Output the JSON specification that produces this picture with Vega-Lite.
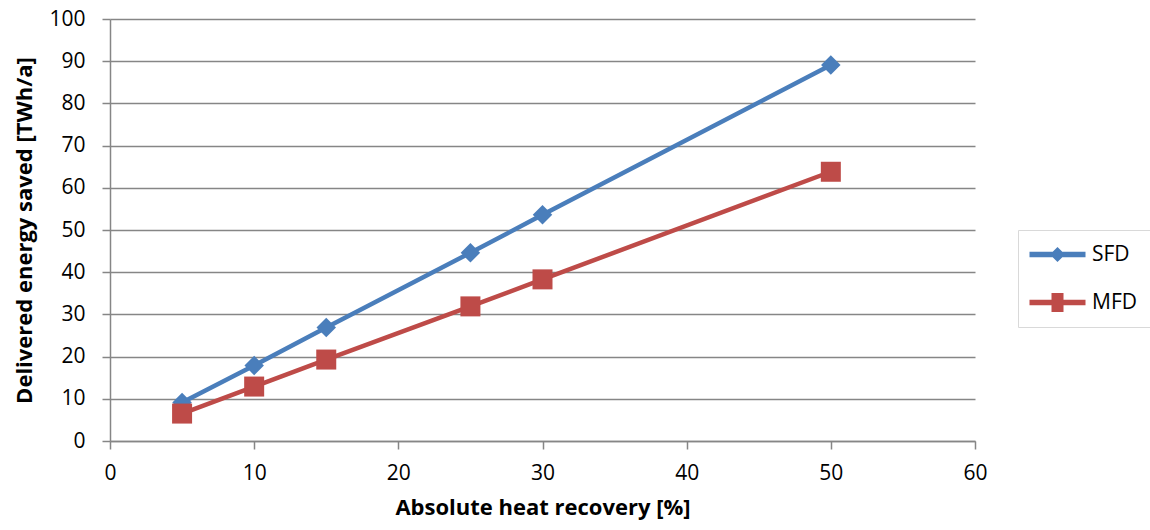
{
  "$schema": "https://vega.github.io/schema/vega-lite/v6.json",
  "width": 865,
  "height": 422,
  "autosize": "none",
  "padding": {"left": 110, "top": 19, "right": 175, "bottom": 89},
  "background": "white",
  "config": {
    "view": {"stroke": null},
    "font": "Open Sans",
    "axis": {
      "labelFont": "Open Sans",
      "titleFont": "Open Sans",
      "labelFontSize": 21,
      "titleFontSize": 22,
      "titleFontWeight": "bold",
      "labelColor": "#000000",
      "titleColor": "#000000",
      "domainColor": "#868686",
      "tickColor": "#868686",
      "gridColor": "#868686",
      "domainWidth": 1.5,
      "tickWidth": 1.5,
      "gridWidth": 1.5,
      "tickSize": 8,
      "labelFlush": false
    }
  },
  "data": {
    "values": [
      {"x": 5, "y": 9.1, "s": "SFD"},
      {"x": 10, "y": 17.9, "s": "SFD"},
      {"x": 15, "y": 26.9, "s": "SFD"},
      {"x": 25, "y": 44.6, "s": "SFD"},
      {"x": 30, "y": 53.6, "s": "SFD"},
      {"x": 50, "y": 89.1, "s": "SFD"},
      {"x": 5, "y": 6.5, "s": "MFD"},
      {"x": 10, "y": 12.9, "s": "MFD"},
      {"x": 15, "y": 19.3, "s": "MFD"},
      {"x": 25, "y": 31.9, "s": "MFD"},
      {"x": 30, "y": 38.3, "s": "MFD"},
      {"x": 50, "y": 63.8, "s": "MFD"}
    ]
  },
  "encoding": {
    "x": {
      "field": "x", "type": "quantitative",
      "scale": {"domain": [0, 60], "nice": false},
      "axis": {"values": [0, 10, 20, 30, 40, 50, 60], "grid": false, "title": "Absolute heat recovery [%]", "labelPadding": 13, "titlePadding": 14}
    },
    "y": {
      "field": "y", "type": "quantitative",
      "scale": {"domain": [0, 100], "nice": false},
      "axis": {"values": [0, 10, 20, 30, 40, 50, 60, 70, 80, 90, 100], "grid": true, "title": "Delivered energy saved [TWh/a]", "labelPadding": 17, "titlePadding": 12}
    }
  },
  "layer": [
    {
      "mark": {"type": "line", "strokeWidth": 4.5},
      "encoding": {
        "color": {
          "field": "s", "type": "nominal",
          "scale": {"domain": ["SFD", "MFD"], "range": ["#4a7ebb", "#be4b48"]},
          "legend": {
            "title": null,
            "orient": "none",
            "legendX": 908,
            "legendY": 211,
            "padding": 14,
            "rowPadding": 26,
            "labelFontSize": 21,
            "labelFont": "Open Sans",
            "labelColor": "#000000",
            "labelOffset": 39,
            "symbolSize": 256,
            "strokeColor": "#d9d9d9",
            "fillColor": "#ffffff",
            "encode": {
              "symbols": {
                "update": {
                  "shape": {"signal": "datum.value === 'SFD' ? 'M-1.625,-0.33H5.375V0.33H-1.625Z M1.875,-0.95L2.825,0L1.875,0.95L0.925,0Z' : 'M-1.625,-0.33H5.375V0.33H-1.625Z M1.125,-1.2H2.625V1.2H1.125Z'"},
                  "fill": {"signal": "datum.value === 'SFD' ? '#4a7ebb' : '#be4b48'"},
                  "stroke": {"value": "transparent"},
                  "strokeWidth": {"value": 0},
                  "size": {"value": 256},
                  "opacity": {"value": 1}
                }
              }
            }
          }
        }
      }
    },
    {
      "transform": [{"filter": "datum.s === 'SFD'"}],
      "mark": {"type": "point", "shape": "diamond", "size": 380, "filled": true, "opacity": 1, "strokeWidth": 0},
      "encoding": {
        "color": {"field": "s", "type": "nominal"}
      }
    },
    {
      "transform": [{"filter": "datum.s === 'MFD'"}],
      "mark": {"type": "point", "shape": "square", "size": 400, "filled": true, "opacity": 1, "strokeWidth": 0},
      "encoding": {
        "color": {"field": "s", "type": "nominal"}
      }
    }
  ]
}
